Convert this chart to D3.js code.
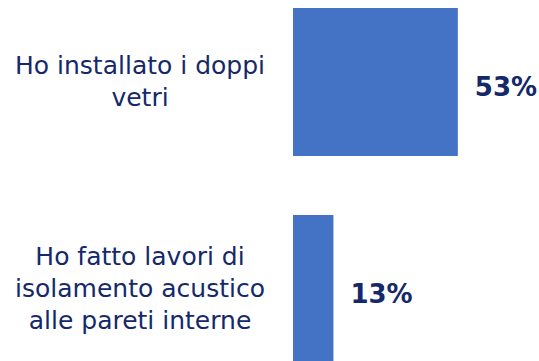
<!DOCTYPE html>
<html>
<head>
<meta charset="utf-8">
<script src="https://cdn.jsdelivr.net/npm/d3@7"></script>
<style>
  body { margin: 0; background: #ffffff; }
</style>
</head>
<body>
<script>
// dati del grafico
var categories = ["doppi vetri", "isolamento"];
var labelLines = [
    ["Ho installato i doppi", "vetri"],
    ["Ho fatto lavori di", "isolamento acustico", "alle pareti interne"]
];
var values = [0.53, 0.13];

var width = 539, height = 361;
var barColor = "#4472c4";
var textColor = "#15296a";

var svg = d3.select("body").append("svg")
    .attr("width", width)
    .attr("height", height);

var x = d3.scaleLinear()
    .domain([0, 1])
    .range([293, 604]);

var y = d3.scaleBand()
    .domain(categories)
    .range([8, 363])
    .paddingInner(0.285)
    .paddingOuter(0);

var fmt = d3.format(".0%");

// barre
svg.selectAll("rect.bar").data(values).enter().append("rect")
    .attr("class", "bar")
    .attr("x", x(0))
    .attr("y", function (d, i) { return y(categories[i]); })
    .attr("width", function (d) { return x(d) - x(0); })
    .attr("height", y.bandwidth())
    .attr("fill", barColor);

// etichette valori
svg.selectAll("text.val").data(values).enter().append("text")
    .attr("class", "val")
    .attr("x", function (d) { return x(d) + 17; })
    .attr("y", function (d, i) { return y(categories[i]) + y.bandwidth() / 2 + 14; })
    .attr("font-family", "DejaVu Sans, sans-serif")
    .attr("font-weight", "bold")
    .attr("font-size", 26)
    .attr("fill", textColor)
    .text(function (d) { return fmt(d); });

// etichette categorie (centrate, su più righe)
var lineH = 32;
var labels = svg.selectAll("text.cat").data(labelLines).enter().append("text")
    .attr("class", "cat")
    .attr("text-anchor", "middle")
    .attr("font-family", "DejaVu Sans, sans-serif")
    .attr("font-size", 25)
    .attr("fill", textColor)
    .attr("transform", function (d, i) {
        var cy = y(categories[i]) + y.bandwidth() / 2;
        var first = cy - (d.length - 1) * lineH / 2 + 8;
        return "translate(140," + first + ")";
    });

labels.selectAll("tspan").data(function (d) { return d; }).enter().append("tspan")
    .attr("x", 0)
    .attr("y", function (d, j) { return j * lineH; })
    .text(function (d) { return d; });
</script>
</body>
</html>
